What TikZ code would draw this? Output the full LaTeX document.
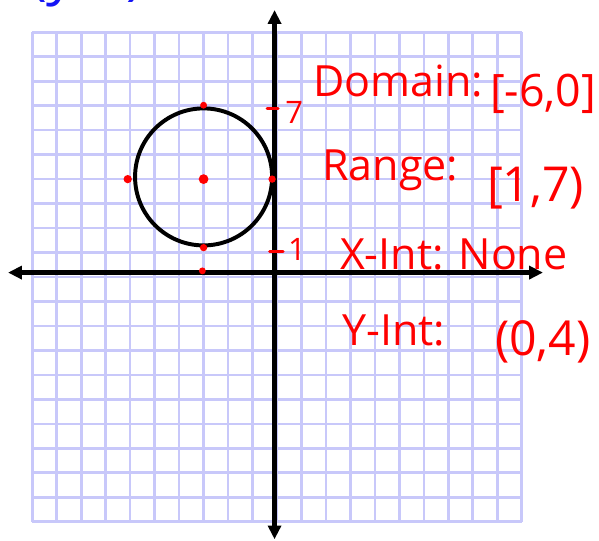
\documentclass[tikz,border=0pt]{standalone}
\usepackage{fontspec}
\setsansfont{Open Sans}
\usetikzlibrary{arrows.meta}
\definecolor{penRed}{HTML}{FF0000}
\definecolor{penBlue}{HTML}{1414F5}
\definecolor{gridLine}{HTML}{C8C8FA}
\tikzset{
  base/.style={font=\sffamily, text=penRed, inner sep=0pt},
  note/.style={base, font=\sffamily\fontsize{50}{58}\selectfont, anchor=base west},
  value/.style={note, font=\sffamily\fontsize{56}{64}\selectfont},
  ticklabel/.style={base, font=\sffamily\fontsize{36}{42}\selectfont},
  cutoff/.style={base, text=penBlue, font=\sffamily\fontsize{66}{76}\selectfont, anchor=base west},
  paper/.style={draw=gridLine, line width=3pt},
  axis/.style={{Triangle[length=16pt,width=15pt]}-{Triangle[length=16pt,width=15pt]}, line width=5.5pt, draw=black},
  curve/.style={draw=black, line width=4.6pt},
  tick/.style={draw=penRed, line width=3.5pt, line cap=round},
  dot/.style={fill=penRed},
}

\begin{document}
\begin{tikzpicture}[x=1cm,y=1cm]
  \useasboundingbox (-11.32,-10.75) rectangle (13.16,11.32);

  % graph paper
  \draw[paper] (-10,-10) grid (10,10);

  % axes
  \coordinate (xl) at (-10.99,0.18);
  \coordinate (xr) at (10.87,0.18);
  \coordinate (yt) at (-0.1,10.91);
  \coordinate (yb) at (-0.1,-10.72);
  \draw[axis] (xl) -- (xr);
  \draw[axis] (yb) -- (yt);

  % circle and its points
  \coordinate (ctr) at (-3,4.09);
  \draw[curve] (ctr) circle (2.8);
  \fill[dot] (-3,4) circle (0.2);
  \fill[dot] (-3,7.02) circle (0.14);
  \fill[dot] (-6.1,4) circle (0.17);
  \fill[dot] (-0.2,4) circle (0.15);
  \fill[dot] (-3,1.2) circle (0.15);
  \fill[dot] (-3.05,0.25) circle (0.14);

  % ticks on the y-axis
  \draw[tick] (-0.4,6.9) -- (0.05,6.9);
  \draw[tick] (-0.3,1.06) -- (0.25,1.06);
  \node[ticklabel] (seven) at (0.7,6.74) {7};
  \node[ticklabel] (one) at (0.82,1.14) {1};

  % notes
  \node[cutoff] (eqn) at (-10.1,11.6) {(y-4)};
  \node[note] (domLbl) at (1.47,7.36) {Domain:};
  \node[note, font=\sffamily\fontsize{52}{60}\selectfont] (domVal) at (8.7,6.95) {[-6,0]};
  \node[note] (rngLbl) at (1.84,3.96) {Range:};
  \node[value] (rngVal) at (8.58,3.07) {[1,7)};
  \node[note] (xInt) at (2.57,0.29) {X-Int: None};
  \node[note] (yLbl) at (2.66,-2.78) {Y-Int:};
  \node[value] (yVal) at (8.91,-3.19) {(0,4)};
\end{tikzpicture}
\end{document}
